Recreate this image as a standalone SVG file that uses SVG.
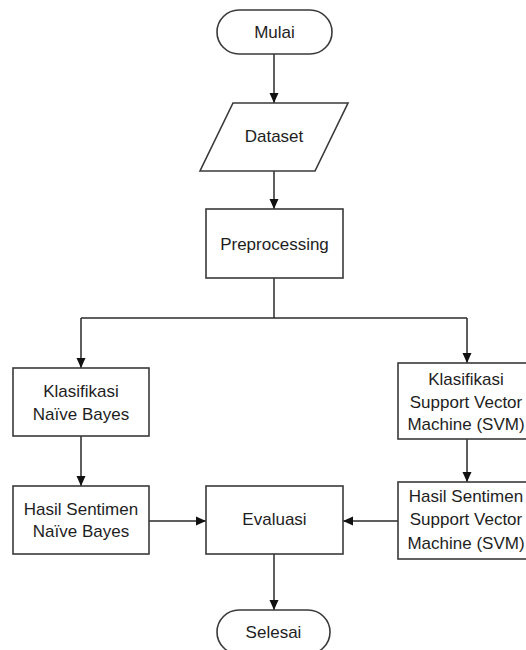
<svg xmlns="http://www.w3.org/2000/svg" width="526" height="650" viewBox="0 0 526 650">
<style>
.s{fill:#fff;stroke:#3a3a3a;stroke-width:1.6}
.c{fill:none;stroke:#2a2a2a;stroke-width:1.5}
text{font-family:"Liberation Sans",Arial,sans-serif;font-size:17px;fill:#1e1e1e;text-anchor:middle}
</style>
<defs>
<marker id="a" markerWidth="10" markerHeight="10" refX="10" refY="5" orient="auto" markerUnits="userSpaceOnUse">
<path d="M0,0.5 L10,5 L0,9.5 Z" fill="#111"/>
</marker>
</defs>
<rect width="526" height="650" fill="#fff"/>
<g id="connectors">
<path class="c" d="M274,54 V103" marker-end="url(#a)"/>
<path class="c" d="M274,171 V209" marker-end="url(#a)"/>
<path class="c" d="M274,278 V318"/>
<path class="c" d="M81,318 H467"/>
<path class="c" d="M81,318 V368" marker-end="url(#a)"/>
<path class="c" d="M467,318 V363" marker-end="url(#a)"/>
<path class="c" d="M81,436 V486" marker-end="url(#a)"/>
<path class="c" d="M467,439 V482" marker-end="url(#a)"/>
<path class="c" d="M149,521 H206" marker-end="url(#a)"/>
<path class="c" d="M398,521 H343" marker-end="url(#a)"/>
<path class="c" d="M274,554 V610" marker-end="url(#a)"/>
</g>
<g id="mulai">
<rect class="s" x="217" y="10" width="115" height="44" rx="22"/>
<text x="274.5" y="38">Mulai</text>
</g>
<g id="dataset">
<polygon class="s" points="233,103 348,103 315,171 200,171"/>
<text x="274" y="142">Dataset</text>
</g>
<g id="preprocessing">
<rect class="s" x="206" y="209" width="137" height="69"/>
<text x="274.5" y="250">Preprocessing</text>
</g>
<g id="klasifikasi-nb">
<rect class="s" x="13" y="368" width="136" height="68"/>
<text x="81" y="397">Klasifikasi</text>
<text x="81" y="420">Naïve Bayes</text>
</g>
<g id="klasifikasi-svm">
<rect class="s" x="398" y="363" width="136" height="76"/>
<text x="466" y="385">Klasifikasi</text>
<text x="466" y="408">Support Vector</text>
<text x="466" y="430">Machine (SVM)</text>
</g>
<g id="hasil-nb">
<rect class="s" x="13" y="486" width="136" height="68"/>
<text x="81" y="515">Hasil Sentimen</text>
<text x="81" y="537">Naïve Bayes</text>
</g>
<g id="hasil-svm">
<rect class="s" x="398" y="482" width="136" height="77"/>
<text x="466" y="502">Hasil Sentimen</text>
<text x="466" y="525">Support Vector</text>
<text x="466" y="549">Machine (SVM)</text>
</g>
<g id="evaluasi">
<rect class="s" x="206" y="486" width="137" height="68"/>
<text x="274.5" y="525">Evaluasi</text>
</g>
<g id="selesai">
<rect class="s" x="217" y="610" width="113" height="44" rx="22"/>
<text x="273.5" y="638">Selesai</text>
</g>
</svg>
